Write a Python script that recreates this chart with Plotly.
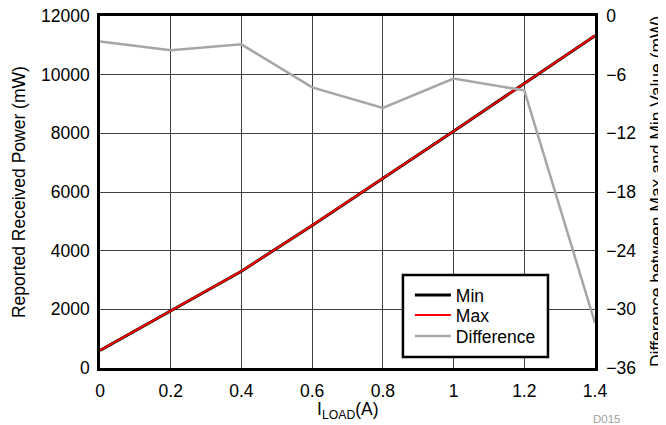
import plotly.graph_objects as go

x_load = [0, 0.2, 0.4, 0.6, 0.8, 1.0, 1.2, 1.4]
min_power = [600, 1950, 3300, 4860, 6460, 8070, 9700, 11330]
max_power = [600, 1950, 3300, 4860, 6460, 8070, 9700, 11330]
difference = [-2.6, -3.5, -2.9, -7.3, -9.4, -6.4, -7.6, -31.4]

FONT = "Liberation Sans, Arial, sans-serif"
FS = 17.5
font = dict(family=FONT, size=FS, color="black")

fig = go.Figure()
fig.add_trace(go.Scatter(x=x_load, y=min_power, name="Min", mode="lines",
                         line=dict(color="black", width=3), legend="legend"))
fig.add_trace(go.Scatter(x=x_load, y=max_power, name="Max", mode="lines",
                         line=dict(color="#ff0000", width=2), legend="legend2"))
fig.add_trace(go.Scatter(x=x_load, y=difference, name="Difference", mode="lines",
                         line=dict(color="#a6a6a6", width=2.5), yaxis="y2",
                         legend="legend3"))

def leg(ytop):
    return dict(x=0.626, y=ytop, xanchor="left", yanchor="top",
                borderwidth=0, bgcolor="rgba(0,0,0,0)",
                font=dict(family=FONT, size=FS), itemwidth=36)

fig.update_layout(
    width=666, height=425,
    margin=dict(l=92, r=79, t=8, b=65, autoexpand=False),
    paper_bgcolor="white", plot_bgcolor="white",
    font=font,
    showlegend=True,
    legend=leg(0.2585),
    legend2=leg(0.2017),
    legend3=leg(0.142),
    xaxis=dict(range=[0, 1.4], dtick=0.2, tick0=0, showgrid=True,
               gridcolor="#404040", gridwidth=1, showline=True, linecolor="black",
               linewidth=2.5, mirror=True, ticks="", zeroline=False,
               tickformat="~g", automargin=False, ticklabelstandoff=5,
               ticklabeloverflow="allow"),
    yaxis=dict(range=[0, 12000], dtick=2000, showgrid=True, gridcolor="#404040",
               gridwidth=1, showline=True, linecolor="black", linewidth=2.5,
               ticks="", zeroline=False, tickformat="d", automargin=False,
               ticklabelstandoff=4, ticklabeloverflow="allow"),
    yaxis2=dict(range=[-36, 0], dtick=6, overlaying="y", side="right",
                showgrid=False, showline=True, linecolor="black", linewidth=2.5,
                ticks="", zeroline=False, automargin=False, ticklabelstandoff=5,
                ticklabeloverflow="allow"),
    shapes=[dict(type="rect", xref="paper", yref="paper", x0=0.612, x1=0.905,
                 y0=0.031, y1=0.264, line=dict(color="black", width=2.5),
                 fillcolor="white", layer="above")],
    annotations=[
        dict(text="I<sub>LOAD</sub>(A)", x=0.5, y=-0.121, xref="paper", yref="paper",
             xanchor="center", yanchor="middle", showarrow=False,
             font=dict(family=FONT, size=FS)),
        dict(text="Reported Received Power (mW)", x=-0.1636, y=0.5, xref="paper",
             yref="paper", xanchor="center", yanchor="middle", showarrow=False,
             textangle=-90, font=dict(family=FONT, size=FS)),
        dict(text="Difference between Max and Min Value (mW)", x=1.1253, y=0.5,
             xref="paper", yref="paper", xanchor="center", yanchor="middle",
             showarrow=False, textangle=-90, font=dict(family=FONT, size=FS)),
        dict(text="D015", x=1.024, y=-0.145, xref="paper", yref="paper",
             xanchor="center", yanchor="middle", showarrow=False,
             font=dict(family=FONT, size=11.5, color="#a0a0a0")),
    ],
)

fig.write_html("out.html")
